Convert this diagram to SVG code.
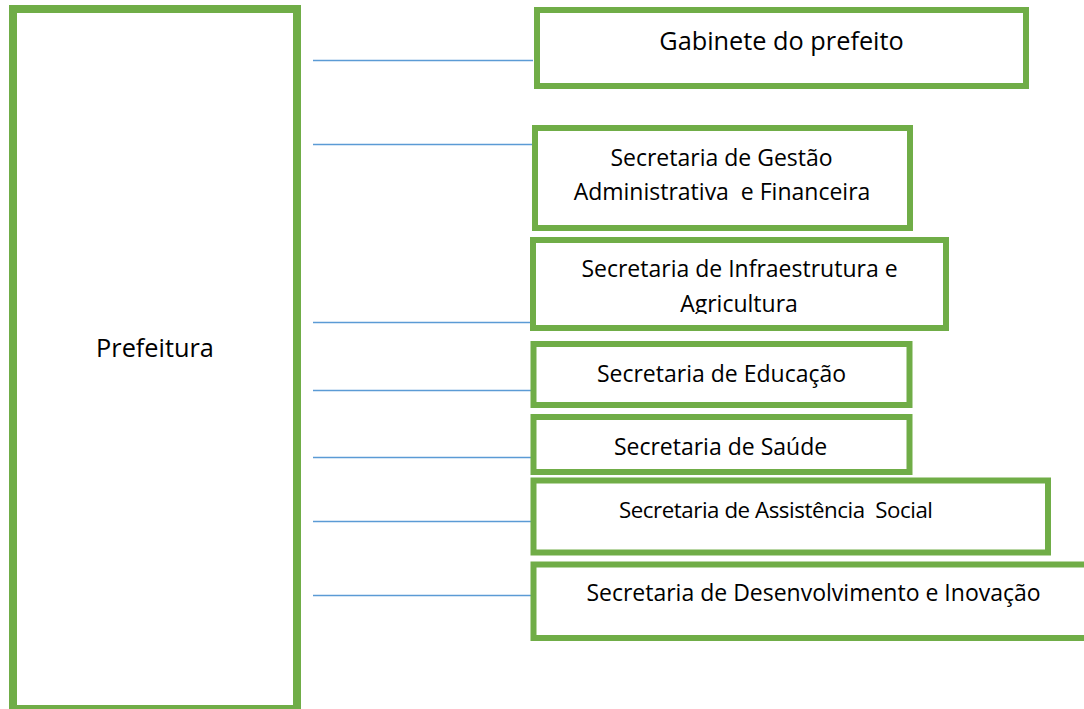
<svg xmlns="http://www.w3.org/2000/svg" width="1084" height="709" viewBox="0 0 1084 709">
<style>
.box{fill:#ffffff;stroke:#70AD47;stroke-width:6}
.big{fill:#ffffff;stroke:#70AD47;stroke-width:8}
.conn{stroke:#5B9BD5;stroke-width:1.3;fill:none}
text{font-family:"Open Sans","Liberation Sans",sans-serif;fill:#000000;text-anchor:middle}
.t11{font-size:23px}
.t12{font-size:25.3px}
</style>
<defs>
<clipPath id="clipInfra"><rect x="536" y="243" width="407" height="71"/></clipPath>
</defs>
<rect width="1084" height="709" fill="#ffffff"/>
<g id="connectors">
<line class="conn" x1="313" y1="60.5" x2="533" y2="60.5"/>
<line class="conn" x1="313" y1="144.5" x2="533" y2="144.5"/>
<line class="conn" x1="313" y1="322.5" x2="531" y2="322.5"/>
<line class="conn" x1="313" y1="390.5" x2="531" y2="390.5"/>
<line class="conn" x1="313" y1="457.5" x2="531" y2="457.5"/>
<line class="conn" x1="313" y1="521.5" x2="531" y2="521.5"/>
<line class="conn" x1="313" y1="595.5" x2="537" y2="595.5"/>
</g>
<g id="prefeitura">
<rect class="big" x="13" y="9" width="284" height="700"/>
<text class="t12" x="155" y="357">Prefeitura</text>
</g>
<g id="gabinete">
<rect class="box" x="537" y="10" width="489" height="76"/>
<text class="t12" x="781.5" y="50">Gabinete do prefeito</text>
</g>
<g id="gestao">
<rect class="box" x="535" y="128" width="375" height="100"/>
<text class="t11" x="721.5" y="166">Secretaria de Gestão</text>
<text class="t11" x="722" y="200" xml:space="preserve">Administrativa  e Financeira</text>
</g>
<g id="infraestrutura">
<rect class="box" x="533" y="240" width="413" height="88"/>
<g clip-path="url(#clipInfra)">
<text class="t11" x="739.5" y="277">Secretaria de Infraestrutura e</text>
<text class="t11" x="739" y="312">Agricultura</text>
</g>
</g>
<g id="educacao">
<rect class="box" x="533.5" y="344" width="376" height="61"/>
<text class="t11" x="721.5" y="382">Secretaria de Educação</text>
</g>
<g id="saude">
<rect class="box" x="533.5" y="417" width="376" height="55"/>
<text class="t11" x="720.5" y="455">Secretaria de Saúde</text>
</g>
<g id="assistencia">
<rect class="box" x="533.5" y="480.5" width="514.5" height="72"/>
<text x="776" y="518" style="font-size:22.3px" textLength="314" lengthAdjust="spacing" xml:space="preserve">Secretaria de Assistência  Social</text>
</g>
<g id="desenvolvimento">
<rect class="box" x="533.5" y="564.5" width="560" height="73.5"/>
<text class="t11" x="813.5" y="601">Secretaria de Desenvolvimento e Inovação</text>
</g>
</svg>
